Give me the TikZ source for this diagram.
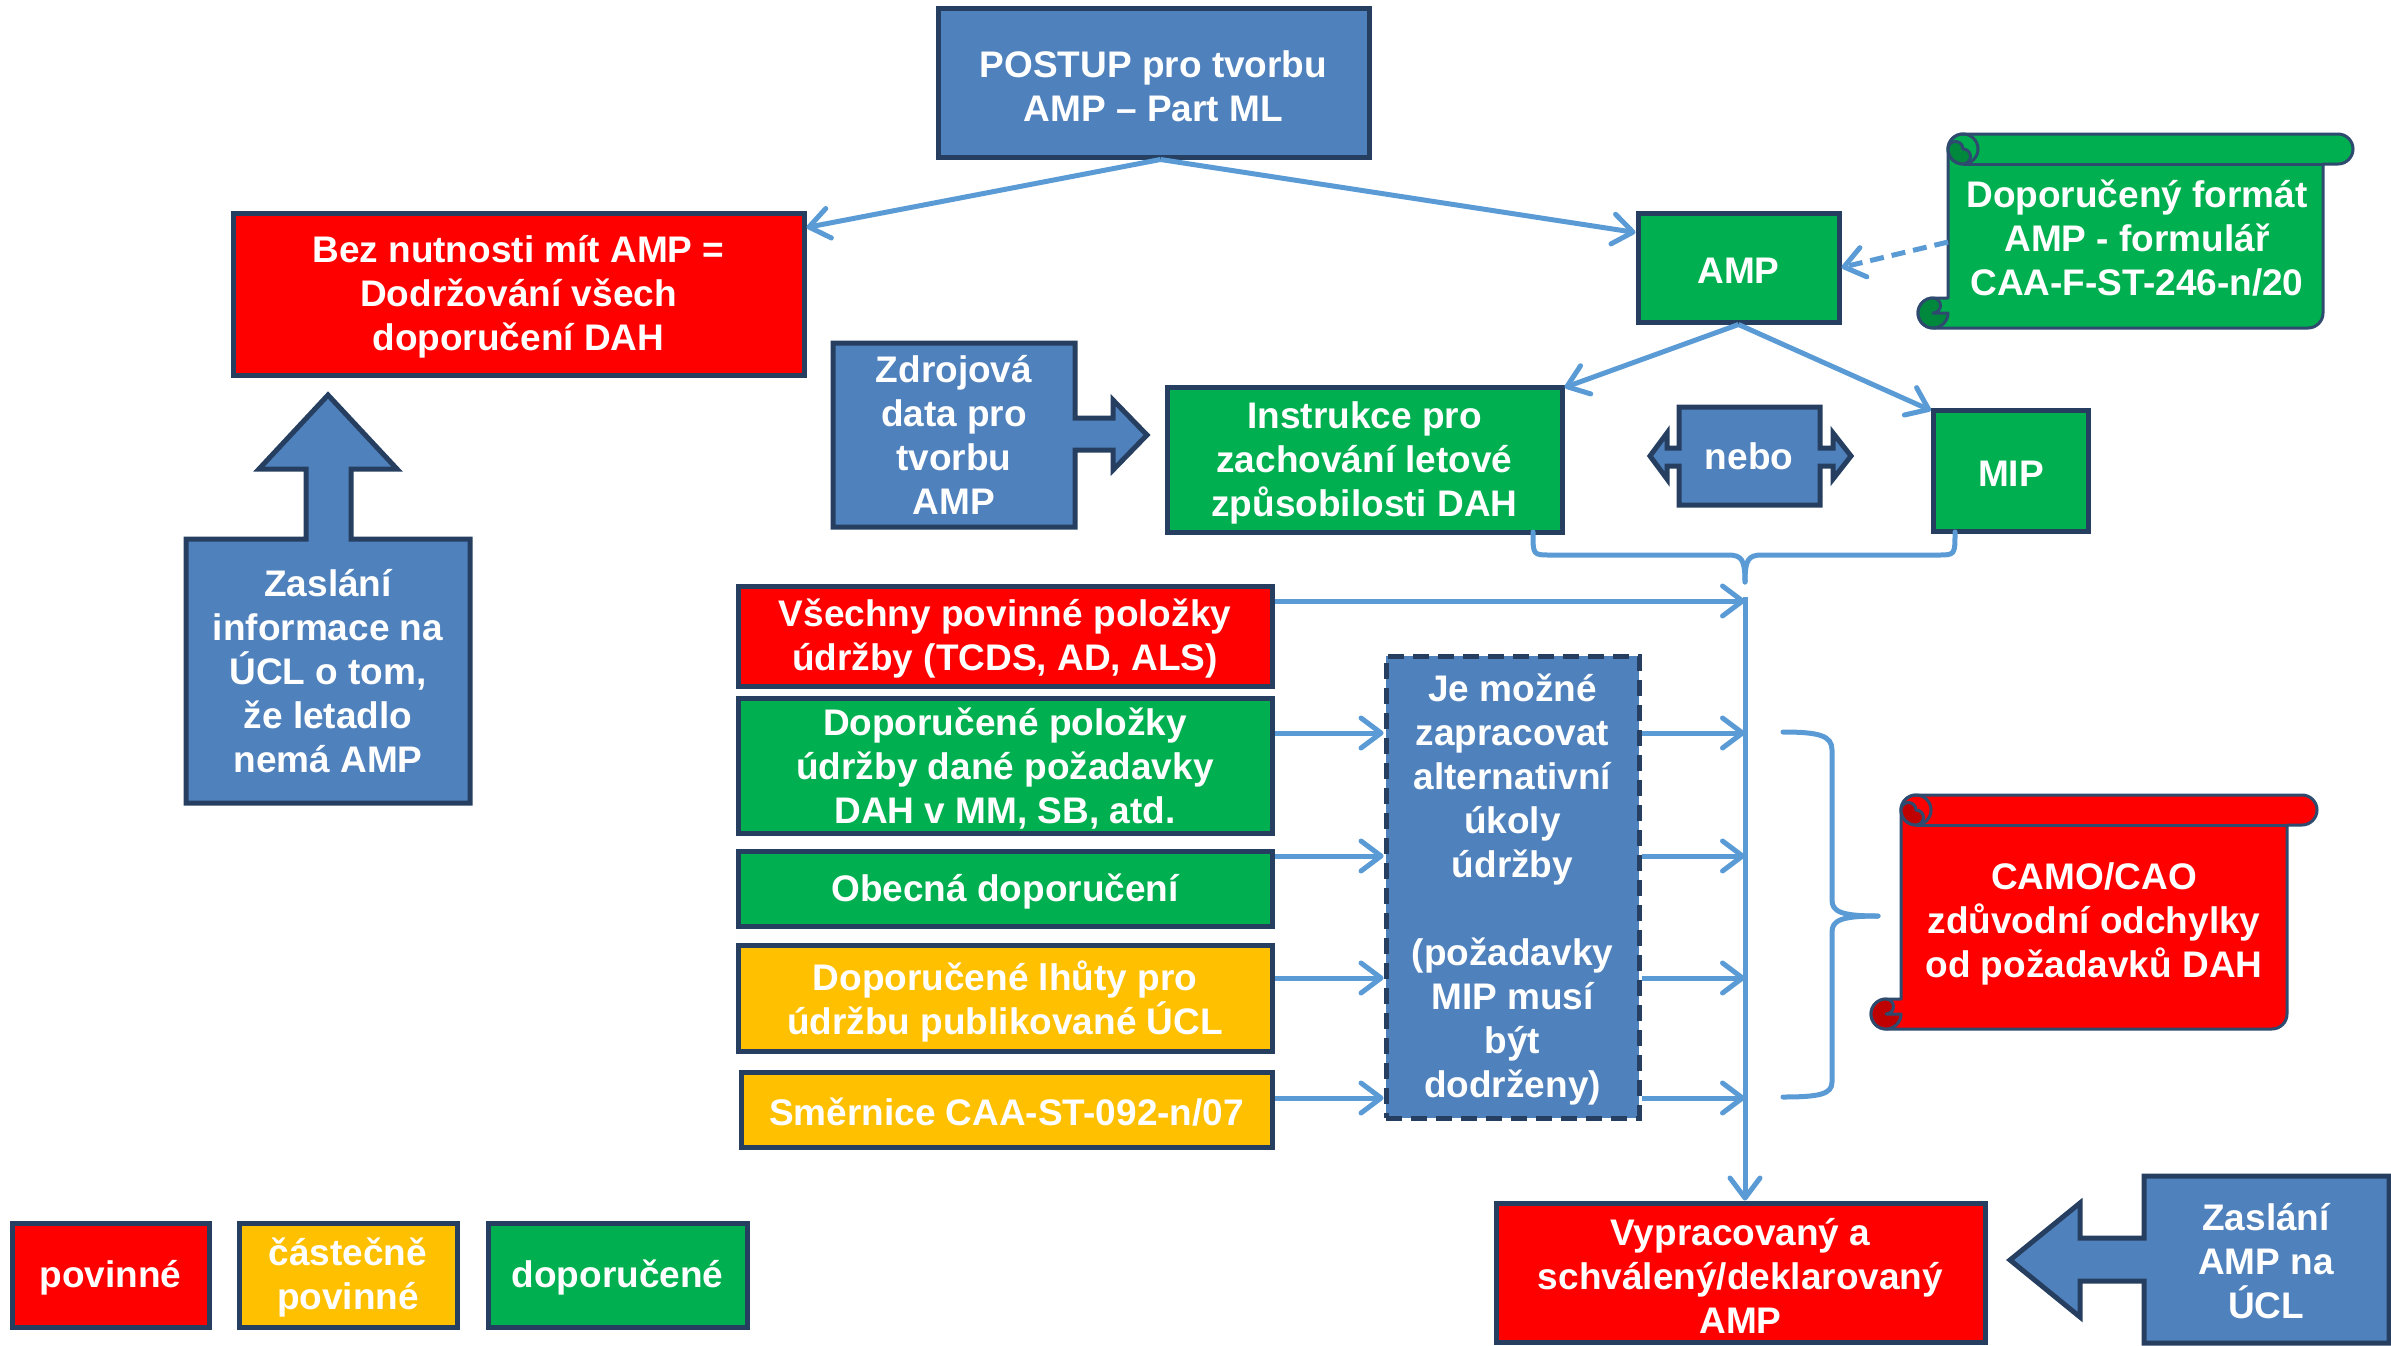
\documentclass[tikz,border=0pt]{standalone}
\usepackage{fontspec}
\setmainfont{Liberation Sans}
\usetikzlibrary{arrows.meta}
\definecolor{bfill}{HTML}{4F81BD}
\definecolor{navy}{HTML}{263F60}
\definecolor{conn}{HTML}{5B9BD5}
\definecolor{pred}{HTML}{FF0000}
\definecolor{dred}{HTML}{C00000}
\definecolor{pgreen}{HTML}{00B050}
\definecolor{dgreen}{HTML}{00883D}
\definecolor{pyellow}{HTML}{FFC000}
\definecolor{sborder}{HTML}{2E4A6E}
\newcommand{\myscroll}[6]{%
  % l t r b fill dark
  \path[fill=#5,draw=sborder,line width=3pt,line join=round]
    ({#1+30},{#2+15}) arc[start angle=180,end angle=270,radius=15]
    -- ({#3-15},#2) arc[start angle=270,end angle=450,radius=15]
    -- ({#3-30},{#2+30}) -- ({#3-30},{#4-15}) arc[start angle=0,end angle=90,radius=15]
    -- ({#1+15},#4) arc[start angle=90,end angle=270,radius=15]
    -- ({#1+30},{#4-30}) -- cycle;
  \path[fill=#6,draw=sborder,line width=3pt,line join=round]
    ({#1+30},{#4-15}) arc[start angle=0,end angle=270,radius=15]
    arc[start angle=270,end angle=450,radius=7.5] -- cycle;
  \draw[sborder,line width=3pt] ({#1+45},{#2+15}) circle[radius=15];
  \path[fill=#6,draw=sborder,line width=3pt,line join=round]
    ({#1+45},{#2+30}) arc[start angle=90,end angle=180,radius=15]
    arc[start angle=180,end angle=360,radius=7.5]
    arc[start angle=270,end angle=450,radius=7.5] -- cycle;
  \draw[sborder,line width=3pt] ({#1+45},{#2+30}) -- ({#3-30},{#2+30});
}
\tikzset{
  box/.style={draw=navy,line width=5pt,inner sep=0pt},
  txt/.style={text=white,align=center,inner sep=0pt,
    font=\bfseries\fontsize{37}{44}\selectfont},
  blk/.style={fill=bfill,draw=navy,line width=5pt,line join=miter},
  link/.style={draw=conn,line width=5pt,-{Straight Barb[length=20pt,width=30pt,round]}},
  plain/.style={draw=conn,line width=5pt,line cap=round},
}
\newcommand{\boxtext}[2]{\node[txt] (#1-t) at ([yshift=-3pt]#1.center) {#2};}
\begin{document}
\begin{tikzpicture}[x=1pt,y=-1pt]
\useasboundingbox (0,0) rectangle (2391,1346);

% boxes
\node[box,fill=bfill,minimum width=431pt,minimum height=148pt] (postup) at (1153.5,83) {};
\boxtext{postup}{POSTUP pro tvorbu\\AMP – Part ML}
\node[box,fill=pred,minimum width=571pt,minimum height=162pt] (bez) at (518.5,294) {};
\boxtext{bez}{Bez nutnosti mít AMP =\\Dodržování všech\\doporučení DAH}
\node[box,fill=pgreen,minimum width=201pt,minimum height=109pt] (amp) at (1738.5,267.5) {};
\boxtext{amp}{AMP}
\node[box,fill=pgreen,minimum width=395pt,minimum height=145pt] (instr) at (1364.5,459.5) {};
\boxtext{instr}{Instrukce pro\\zachování letové\\způsobilosti DAH}
\node[box,fill=pgreen,minimum width=155pt,minimum height=121pt] (mip) at (2011,470.5) {};
\boxtext{mip}{MIP}
\node[box,fill=pred,minimum width=534pt,minimum height=100pt] (vse) at (1005,636) {};
\boxtext{vse}{Všechny povinné položky\\údržby (TCDS, AD, ALS)}
\node[box,fill=pgreen,minimum width=534pt,minimum height=135pt] (dop) at (1005,765.5) {};
\boxtext{dop}{Doporučené položky\\údržby dané požadavky\\DAH v MM, SB, atd.}
\node[box,fill=pgreen,minimum width=534pt,minimum height=75pt] (obec) at (1005,888.5) {};
\boxtext{obec}{Obecná doporučení}
\node[box,fill=pyellow,minimum width=534pt,minimum height=106pt] (lhuty) at (1005,998) {};
\boxtext{lhuty}{Doporučené lhůty pro\\údržbu publikované ÚCL}
\node[box,fill=pyellow,minimum width=531pt,minimum height=75pt] (smer) at (1006.5,1109.5) {};
\boxtext{smer}{Směrnice CAA-ST-092-n/07}
\node[box,fill=bfill,dash pattern=on 16pt off 9pt,minimum width=253pt,minimum height=462pt] (alt) at (1512.5,887) {};
\boxtext{alt}{Je možné\\zapracovat\\alternativní\\úkoly\\údržby\\[44pt](požadavky\\MIP musí\\být\\dodrženy)}
\node[box,fill=pred,minimum width=489pt,minimum height=139pt] (vyp) at (1740.5,1272.5) {};
\boxtext{vyp}{Vypracovaný a\\schválený/deklarovaný\\AMP}
\node[box,fill=pred,minimum width=197pt,minimum height=104pt] (leg1) at (110.5,1275) {};
\boxtext{leg1}{povinné}
\node[box,fill=pyellow,minimum width=218pt,minimum height=104pt] (leg2) at (348,1275) {};
\boxtext{leg2}{částečně\\povinné}
\node[box,fill=pgreen,minimum width=259pt,minimum height=104pt] (leg3) at (617.5,1275) {};
\boxtext{leg3}{doporučené}

% block arrow callouts
\path[blk] (186,539) -- (306,539) -- (306,469) -- (259,469) -- (328,395) -- (397,469) -- (351,469) -- (351,539) -- (470,539) -- (470,803) -- (186,803) -- cycle;
\node[txt] (zl) at (328,671) {Zaslání\\informace na\\ÚCL o tom,\\že letadlo\\nemá AMP};
\path[blk] (833,343) -- (1075,343) -- (1075,418) -- (1113,418) -- (1113,400) -- (1147,435) -- (1113,470) -- (1113,450) -- (1075,450) -- (1075,527) -- (833,527) -- cycle;
\node[txt] (zd) at (954,435) {Zdrojová\\data pro\\tvorbu\\AMP};
\path[blk] (1679,407) -- (1820,407) -- (1820,448) -- (1833,448) -- (1833,433) -- (1851,456) -- (1833,479) -- (1833,466) -- (1820,466) -- (1820,505) -- (1679,505) -- (1679,466) -- (1667,466) -- (1667,479) -- (1650,456) -- (1667,433) -- (1667,448) -- (1679,448) -- cycle;
\node[txt] (nebo) at (1749,456) {nebo};
\path[blk] (2144,1176) -- (2389,1176) -- (2389,1343) -- (2144,1343) -- (2144,1281) -- (2080,1281) -- (2080,1317) -- (2010,1260) -- (2080,1203) -- (2080,1238) -- (2144,1238) -- cycle;
\node[txt] (za) at (2266,1261) {Zaslání\\AMP na\\ÚCL};

% scrolls
\myscroll{1918}{134}{2353}{328}{pgreen}{dgreen}
\node[txt] (fmt) at (2137,238) {Doporučený formát\\AMP - formulář\\CAA-F-ST-246-n/20};
\coordinate (fmtL) at (1948,242);
\myscroll{1871}{795}{2317}{1029}{pred}{dred}
\node[txt] (camo) at (2094,924) {CAMO/CAO\\zdůvodní odchylky\\od požadavků DAH};

% connectors
\draw[link] ([xshift=7pt]postup.south) -- ([yshift=-17pt]bez.north east);
\draw[link] ([xshift=7pt]postup.south) -- ([yshift=-22pt]amp.north west);
\draw[link,dash pattern=on 14pt off 8pt] (fmtL) -- (amp.east);
\draw[link] (amp.south) -- ([yshift=-3pt]instr.north east);
\draw[link] (amp.south) -- ([yshift=-3pt]mip.north west);

% brace under Instrukce / MIP
\draw[plain] (1533,532) .. controls (1533,555) and (1533,555) .. (1550,555) -- (1728,555) .. controls (1742,555) and (1745,560) .. (1745,582);
\draw[plain] (1955,532) .. controls (1955,555) and (1955,555) .. (1938,555) -- (1762,555) .. controls (1748,555) and (1745,560) .. (1745,582);

\coordinate (vtop) at (1745,597);
\draw[link] (vtop) -- (vtop |- vyp.north);

\coordinate (y1) at (0,601);
\coordinate (y2) at (0,733);
\coordinate (y3) at (0,856);
\coordinate (y4) at (0,978);
\coordinate (y5) at (0,1098);
\draw[link] (vse.east |- y1) -- (vtop |- y1);
\draw[link] (dop.east |- y2) -- (alt.west |- y2);
\draw[link] (obec.east |- y3) -- (alt.west |- y3);
\draw[link] (lhuty.east |- y4) -- (alt.west |- y4);
\draw[link] (smer.east |- y5) -- (alt.west |- y5);
\draw[link] (alt.east |- y2) -- (vtop |- y2);
\draw[link] (alt.east |- y3) -- (vtop |- y3);
\draw[link] (alt.east |- y4) -- (vtop |- y4);
\draw[link] (alt.east |- y5) -- (vtop |- y5);

% right brace
\draw[plain] (1783,732) .. controls (1820,732) and (1832,736) .. (1832,750) -- (1832,900) .. controls (1832,912) and (1842,916) .. (1878,916);
\draw[plain] (1878,916) .. controls (1842,916) and (1832,920) .. (1832,932) -- (1832,1082) .. controls (1832,1094) and (1820,1097) .. (1783,1097);
\end{tikzpicture}
\end{document}
